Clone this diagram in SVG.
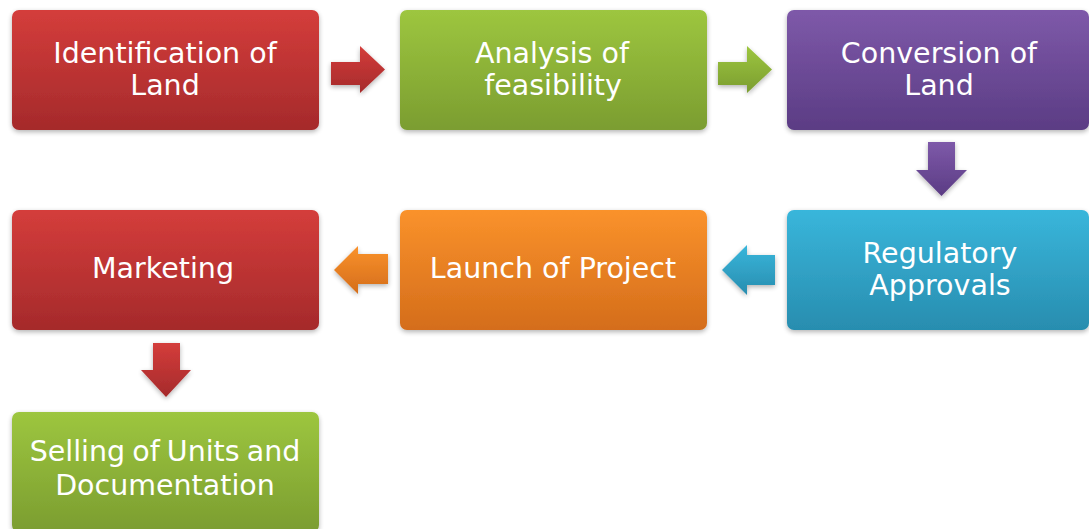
<svg xmlns="http://www.w3.org/2000/svg" width="1089" height="529" viewBox="0 0 1089 529">
<defs>
<linearGradient id="gRed" x1="0" y1="0" x2="0" y2="1"><stop offset="0" stop-color="#d43d3b"/><stop offset="1" stop-color="#a52a2b"/></linearGradient>
<linearGradient id="gGreen" x1="0" y1="0" x2="0" y2="1"><stop offset="0" stop-color="#9dc63f"/><stop offset="1" stop-color="#7b9d30"/></linearGradient>
<linearGradient id="gPurple" x1="0" y1="0" x2="0" y2="1"><stop offset="0" stop-color="#7e59a9"/><stop offset="1" stop-color="#5b3c84"/></linearGradient>
<linearGradient id="gBlue" x1="0" y1="0" x2="0" y2="1"><stop offset="0" stop-color="#39b6db"/><stop offset="1" stop-color="#288daf"/></linearGradient>
<linearGradient id="gOrange" x1="0" y1="0" x2="0" y2="1"><stop offset="0" stop-color="#fa922b"/><stop offset="1" stop-color="#d46d1b"/></linearGradient>
<filter id="sh" x="-10%" y="-20%" width="120%" height="140%">
<feGaussianBlur in="SourceAlpha" stdDeviation="2.5"/>
<feOffset dx="0" dy="1.5" result="b"/>
<feComponentTransfer><feFuncA type="linear" slope="0.3"/></feComponentTransfer>
<feMerge><feMergeNode/><feMergeNode in="SourceGraphic"/></feMerge>
</filter>
</defs>
<style>
.box{filter:url(#sh);}
.lbl{font-family:"DejaVu Sans","Verdana",sans-serif;font-size:28.5px;fill:#ffffff;text-anchor:middle;}
.sel{font-size:28.5px;}
.arr{filter:url(#sh);}
</style>
<rect width="1089" height="529" fill="#ffffff"/>

<g id="connectors">
<path class="arr" fill="url(#gRed)" d="M331,62 H360 V46 L385,69.5 L360,93 V85 H331 Z"/>
<path class="arr" fill="url(#gGreen)" d="M718,62 H747 V46 L772,69.5 L747,93 V85 H718 Z"/>
<path class="arr" fill="url(#gPurple)" d="M928,142 H955 V170 H967 L941.5,196 L916,170 H928 Z"/>
<path class="arr" fill="url(#gBlue)" d="M775,255 H747 V245 L722,270 L747,295 V285 H775 Z"/>
<path class="arr" fill="url(#gOrange)" d="M388,254 H358 V246 L334,270 L358,294 V284 H388 Z"/>
<path class="arr" fill="url(#gRed)" d="M153,343 H180 V370 H191 L166,397 L141,370 H153 Z"/>
</g>

<g id="n1">
<rect class="box" x="12" y="10" width="307" height="120" rx="7" fill="url(#gRed)"/>
<text class="lbl" x="165" y="63">Identification of</text>
<text class="lbl" x="165" y="95">Land</text>
</g>
<g id="n2">
<rect class="box" x="400" y="10" width="307" height="120" rx="7" fill="url(#gGreen)"/>
<text class="lbl" x="552" y="63">Analysis of</text>
<text class="lbl" x="553" y="95">feasibility</text>
</g>
<g id="n3">
<rect class="box" x="787" y="10" width="302" height="120" rx="7" fill="url(#gPurple)"/>
<text class="lbl" x="939" y="63">Conversion of</text>
<text class="lbl" x="939" y="95">Land</text>
</g>
<g id="n4">
<rect class="box" x="787" y="210" width="302" height="120" rx="7" fill="url(#gBlue)"/>
<text class="lbl" x="940" y="263">Regulatory</text>
<text class="lbl" x="940" y="295">Approvals</text>
</g>
<g id="n5">
<rect class="box" x="400" y="210" width="307" height="120" rx="7" fill="url(#gOrange)"/>
<text class="lbl" x="553" y="278">Launch of Project</text>
</g>
<g id="n6">
<rect class="box" x="12" y="210" width="307" height="120" rx="7" fill="url(#gRed)"/>
<text class="lbl" x="163" y="278">Marketing</text>
</g>
<g id="n7">
<rect class="box" x="12" y="412" width="307" height="120" rx="7" fill="url(#gGreen)"/>
<text class="lbl sel" x="165" y="461" word-spacing="-2">Selling of Units and</text>
<text class="lbl sel" x="165" y="495">Documentation</text>
</g>
</svg>
